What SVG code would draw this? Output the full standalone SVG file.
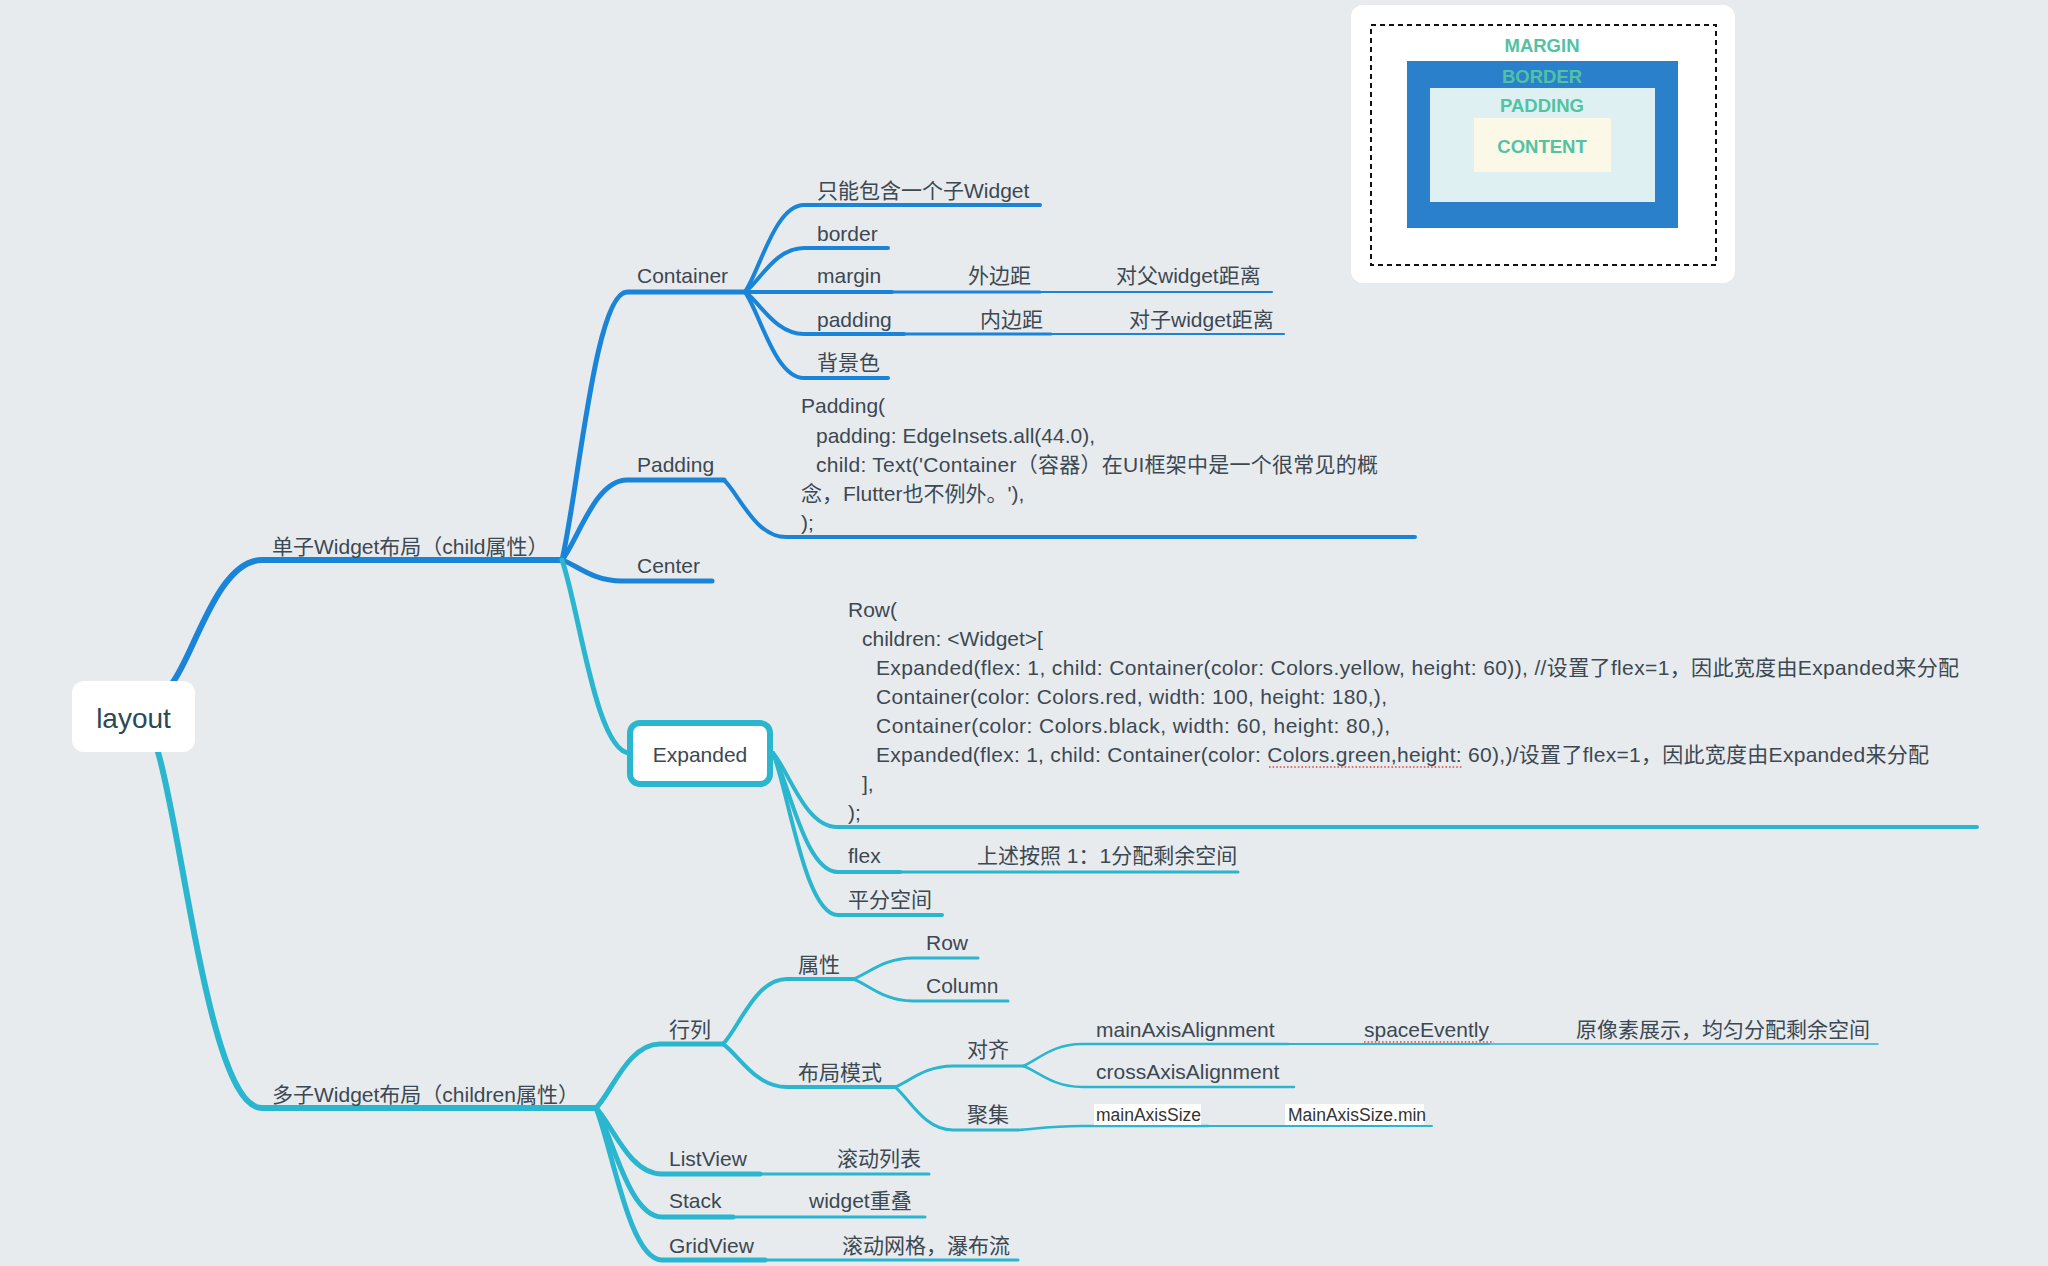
<svg xmlns="http://www.w3.org/2000/svg" width="2048" height="1266" viewBox="0 0 2048 1266">
<style>
.b{fill:none;stroke:#1a84d8;stroke-linecap:round;stroke-linejoin:round}
.c{fill:none;stroke:#2ab6cf;stroke-linecap:round;stroke-linejoin:round}
.w6{stroke-width:6}.w5{stroke-width:5}.w4{stroke-width:4}.w3{stroke-width:3}.w25{stroke-width:2.5}.w2{stroke-width:2}.w15{stroke-width:1.6}
text{font-family:'Liberation Sans','Noto Sans CJK SC',sans-serif;fill:#3c4852}
.t{font-size:21px}
.s{font-size:17.5px;fill:#333}
.bm{font-size:18.5px;font-weight:bold;fill:#50c3a3;text-anchor:middle}
.spell{fill:none;stroke:#e04848;stroke-width:1.6;stroke-dasharray:1.6 2}
</style>
<rect width="2048" height="1266" fill="#e7ebee"/>

<g id="box-model">
<rect x="1351" y="5" width="384" height="278" rx="12" fill="#ffffff"/>
<rect x="1371" y="25" width="345" height="240" fill="none" stroke="#111" stroke-width="2" stroke-dasharray="5 4"/>
<rect x="1407" y="61" width="271" height="167" fill="#2b80cc"/>
<rect x="1430" y="88" width="225" height="114" fill="#dff0f3"/>
<rect x="1474" y="118" width="137" height="54" fill="#fbf8e8"/>
<text class="bm" x="1542" y="52">MARGIN</text>
<text class="bm" x="1542" y="83">BORDER</text>
<text class="bm" x="1542" y="112">PADDING</text>
<text class="bm" x="1542" y="153">CONTENT</text>
</g>

<g id="connectors">
<path class="b w6" d="M168,692 L173,682 C195,652 218,560 262,560 L562,560"/>
<path class="b w5" d="M562,560 C578,493 595,292 627,292 L745,292"/>
<path class="b w5" d="M562,560 C578,540 595,480 627,480 L724,480"/>
<path class="b w5" d="M562,560 C577,565 592,581 622,581 L712,581"/>
<path class="b w4" d="M724,480 C739,494 755,537 786,537 L1415,537"/>
<path class="b w4" d="M745,292 C760,270 775,205 804,205 L1040,205"/>
<path class="b w4" d="M745,292 C760,281 775,248 804,248 L888,248"/>
<path class="b w4" d="M745,292 L892,292"/>
<path class="b w3" d="M892,292 L1040,292"/>
<path class="b w2" d="M1040,292 L1272,292"/>
<path class="b w4" d="M745,292 C760,302 775,334 804,334 L904,334"/>
<path class="b w3" d="M904,334 L1051,334"/>
<path class="b w2" d="M1051,334 L1284,334"/>
<path class="b w4" d="M745,292 C760,313 775,378 804,378 L888,378"/>

<path class="c w6" d="M154,742 L158,752 C184,841 210,1108 262,1108 L596,1108"/>
<path class="c w5" d="M562,560 C579,608 596,753 630,753"/>
<path class="c w4" d="M773,753 C789,771 805,827 837,827 L1977,827"/>
<path class="c w4" d="M773,753 C789,783 805,872 838,872 L900,872"/>
<path class="c w3" d="M900,872 L1238,872"/>
<path class="c w4" d="M773,753 C789,793 805,915 838,915 L942,915"/>
<path class="c w5" d="M596,1108 C612,1092 628,1044 660,1044 L723,1044"/>
<path class="c w5" d="M596,1108 C612,1124 629,1174 662,1174 L760,1174"/>
<path class="c w3" d="M760,1174 L929,1174"/>
<path class="c w5" d="M596,1108 C612,1135 629,1217 662,1217 L733,1217"/>
<path class="c w3" d="M733,1217 L925,1217"/>
<path class="c w5" d="M596,1108 C612,1146 629,1260 662,1260 L765,1260"/>
<path class="c w3" d="M765,1260 L1018,1260"/>
<path class="c w4" d="M723,1044 C739,1028 755,979 787,979 L853,979"/>
<path class="c w4" d="M723,1044 C739,1055 755,1087 787,1087 L895,1087"/>
<path class="c w3" d="M853,979 C868,974 883,958 913,958 L978,958"/>
<path class="c w3" d="M853,979 C868,984 883,1001 913,1001 L1008,1001"/>
<path class="c w3" d="M895,1087 C909,1082 924,1066 953,1066 L1023,1066"/>
<path class="c w3" d="M895,1087 C909,1098 924,1130 953,1130 L1018,1130"/>
<path class="c w25" d="M1023,1066 C1038,1060 1052,1044 1082,1044 L1288,1044"/>
<path class="c w2" d="M1288,1044 L1489,1044"/>
<path class="c w15" d="M1489,1044 L1878,1044"/>
<path class="c w25" d="M1023,1066 C1038,1071 1052,1087 1082,1087 L1294,1087"/>
<path class="c w25" d="M1018,1130 C1034,1129 1050,1126 1082,1126 L1208,1126"/>
<path class="c w2" d="M1208,1126 L1432,1126"/>
</g>

<g id="n-root">
<rect x="72" y="681" width="123" height="71" rx="12" fill="#ffffff"/>
<text x="133.5" y="728" font-size="28" text-anchor="middle" style="fill:#2c4856">layout</text>
</g>

<g id="n-single"><text class="t" x="272" y="554">单子Widget布局（child属性）</text></g>
<g id="n-multi"><text class="t" x="272" y="1102">多子Widget布局（children属性）</text></g>

<g id="n-container"><text class="t" x="637" y="283">Container</text></g>
<g id="n-container-1"><text class="t" x="817" y="198">只能包含一个子Widget</text></g>
<g id="n-border"><text class="t" x="817" y="241">border</text></g>
<g id="n-margin"><text class="t" x="817" y="283">margin</text></g>
<g id="n-margin-1"><text class="t" x="968" y="283">外边距</text></g>
<g id="n-margin-2"><text class="t" x="1116" y="283">对父widget距离</text></g>
<g id="n-padding-prop"><text class="t" x="817" y="327">padding</text></g>
<g id="n-padding-prop-1"><text class="t" x="980" y="327">内边距</text></g>
<g id="n-padding-prop-2"><text class="t" x="1129" y="327">对子widget距离</text></g>
<g id="n-bg"><text class="t" x="817" y="370">背景色</text></g>

<g id="n-padding"><text class="t" x="637" y="472">Padding</text></g>
<g id="n-padding-code">
<text class="t" x="801" y="413">Padding(</text>
<text class="t" x="816" y="443">padding: EdgeInsets.all(44.0),</text>
<text class="t" x="816" y="472" textLength="562">child: Text('Container（容器）在UI框架中是一个很常见的概</text>
<text class="t" x="801" y="501">念，Flutter也不例外。'),</text>
<text class="t" x="801" y="530">);</text>
</g>

<g id="n-center"><text class="t" x="637" y="573">Center</text></g>

<g id="n-expanded">
<rect x="630" y="723" width="140" height="61" rx="10" fill="#ffffff" stroke="#2ab6cf" stroke-width="6"/>
<text class="t" x="700" y="762" text-anchor="middle">Expanded</text>
</g>
<g id="n-expanded-code">
<text class="t" x="848" y="617">Row(</text>
<text class="t" x="862" y="646">children: &lt;Widget&gt;[</text>
<text class="t" x="876" y="675" textLength="1083">Expanded(flex: 1, child: Container(color: Colors.yellow, height: 60)), //设置了flex=1，因此宽度由Expanded来分配</text>
<text class="t" x="876" y="704" textLength="511">Container(color: Colors.red, width: 100, height: 180,),</text>
<text class="t" x="876" y="733" textLength="514">Container(color: Colors.black, width: 60, height: 80,),</text>
<text class="t" x="876" y="762" textLength="1053">Expanded(flex: 1, child: Container(color: Colors.green,height: 60),)/设置了flex=1，因此宽度由Expanded来分配</text>
<text class="t" x="862" y="791">],</text>
<text class="t" x="848" y="820">);</text>
<path class="spell" d="M1269,767 L1462,767"/>
</g>
<g id="n-flex"><text class="t" x="848" y="863">flex</text></g>
<g id="n-flex-1"><text class="t" x="977" y="863">上述按照 1：1分配剩余空间</text></g>
<g id="n-split"><text class="t" x="848" y="907">平分空间</text></g>

<g id="n-rowcol"><text class="t" x="669" y="1037">行列</text></g>
<g id="n-attr"><text class="t" x="798" y="972">属性</text></g>
<g id="n-row"><text class="t" x="926" y="950">Row</text></g>
<g id="n-column"><text class="t" x="926" y="993">Column</text></g>
<g id="n-mode"><text class="t" x="798" y="1080">布局模式</text></g>
<g id="n-align"><text class="t" x="967" y="1057">对齐</text></g>
<g id="n-gather"><text class="t" x="967" y="1122">聚集</text></g>
<g id="n-main"><text class="t" x="1096" y="1037">mainAxisAlignment</text></g>
<g id="n-main-1"><text class="t" x="1364" y="1037">spaceEvently</text><path class="spell" d="M1364,1042 L1494,1042"/></g>
<g id="n-main-2"><text class="t" x="1576" y="1037">原像素展示，均匀分配剩余空间</text></g>
<g id="n-cross"><text class="t" x="1096" y="1079">crossAxisAlignment</text></g>
<g id="n-size"><rect x="1094" y="1104" width="107" height="21" fill="#ffffff"/><text class="s" x="1096" y="1121">mainAxisSize</text></g>
<g id="n-size-1"><rect x="1285" y="1104" width="139" height="21" fill="#ffffff"/><text class="s" x="1288" y="1121">MainAxisSize.min</text></g>

<g id="n-listview"><text class="t" x="669" y="1166">ListView</text></g>
<g id="n-listview-1"><text class="t" x="837" y="1166">滚动列表</text></g>
<g id="n-stack"><text class="t" x="669" y="1208">Stack</text></g>
<g id="n-stack-1"><text class="t" x="809" y="1208">widget重叠</text></g>
<g id="n-gridview"><text class="t" x="669" y="1253">GridView</text></g>
<g id="n-gridview-1"><text class="t" x="842" y="1253">滚动网格，瀑布流</text></g>
</svg>
